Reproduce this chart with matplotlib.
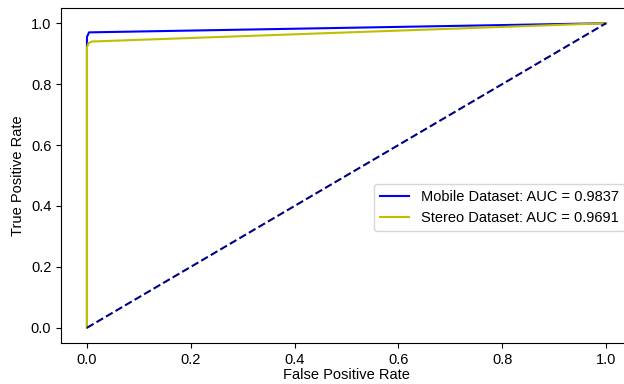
import matplotlib
matplotlib.use("Agg")
import matplotlib.pyplot as plt

plt.rcParams["font.family"] = ["Liberation Sans", "DejaVu Sans"]
plt.rcParams["font.size"] = 10.5

# ROC curve points
mobile_fpr = [0.0, 0.0, 0.004, 1.0]
mobile_tpr = [0.0, 0.955, 0.97, 1.0]
stereo_fpr = [0.0, 0.0, 0.003, 0.01, 1.0]
stereo_tpr = [0.0, 0.92, 0.935, 0.94, 1.0]
mobile_auc = 0.9837
stereo_auc = 0.9691

fig = plt.figure(figsize=(6.24, 3.84), dpi=100)
ax = fig.add_axes([61 / 624, 41 / 384, 571 / 624, 335 / 384])

ax.plot(mobile_fpr, mobile_tpr, color="b", lw=1.5, label=f"Mobile Dataset: AUC = {mobile_auc:.4f}")
ax.plot(stereo_fpr, stereo_tpr, color="y", lw=1.5, label=f"Stereo Dataset: AUC = {stereo_auc:.4f}")
ax.plot([0, 1], [0, 1], color="navy", linestyle="--", lw=1.5)

ax.set_xlim(-0.05, 1.05)
ax.set_ylim(-0.05, 1.05)
ax.set_xlabel("False Positive Rate", labelpad=1)
ax.set_ylabel("True Positive Rate")
ax.legend(loc="center right", bbox_to_anchor=(1.0, 0.405))

fig.savefig("out.png", dpi=100)
